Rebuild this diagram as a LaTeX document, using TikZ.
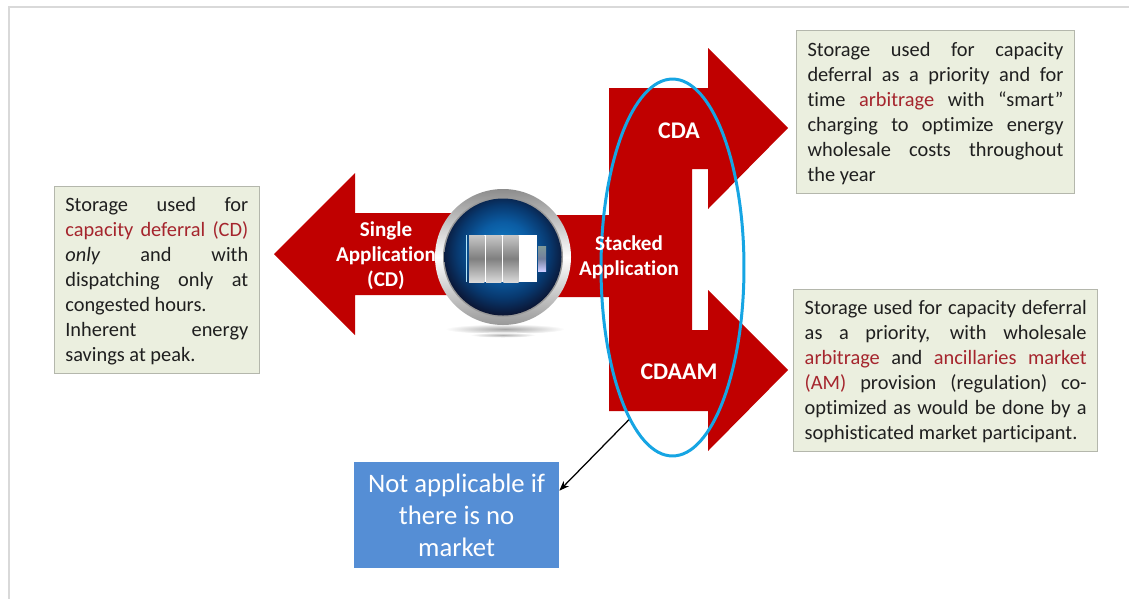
\documentclass[tikz,border=0pt]{standalone}
\usepackage{fontspec}
\setmainfont{Carlito}[Ligatures=NoCommon]
\usetikzlibrary{arrows.meta,shapes.geometric}
\definecolor{appred}{HTML}{C00000}
\definecolor{notered}{HTML}{A5252D}
\definecolor{notefill}{HTML}{EBEFDF}
\definecolor{noteline}{HTML}{B4B7AC}
\definecolor{ovalblue}{HTML}{16A5E3}
\definecolor{marketblue}{HTML}{558ED5}
\definecolor{frameline}{HTML}{D9D9D9}
\definecolor{glowcore}{HTML}{1280C8}
\definecolor{glowmid}{HTML}{0B5CA3}
\definecolor{glowlow}{HTML}{08386E}
\definecolor{glowrim}{HTML}{0B1330}
\definecolor{glowedge}{HTML}{160E1C}
\pgfdeclareradialshading{batteryglow}{\pgfpoint{0bp}{4bp}}{%
  color(0bp)=(glowcore); color(12bp)=(glowmid); color(20bp)=(glowlow); color(27bp)=(glowrim); color(31bp)=(glowedge); color(50bp)=(glowedge)}
\newcommand{\hot}[1]{\textcolor{notered}{#1}}
\newcommand{\notefont}{\fontsize{11.6}{14.25}\selectfont\tolerance=10000\relax\hbadness=10000\relax}
\newcommand{\notestart}{\rule{0pt}{9.6pt}}
\tikzset{
  notebox/.style={
    draw=noteline,
    line width=0.02cm,
    fill=notefill,
    inner xsep=0.22cm,
    inner ysep=0pt,
    text=black!88,
    align=justify,
    font=\notefont
  },
  applabel/.style={
    text=white,
    align=center,
    inner sep=0pt,
    font=\fontsize{12}{14.25}\selectfont\bfseries
  },
  armlabel/.style={
    applabel,
    font=\fontsize{13.6}{16}\selectfont\bfseries
  }
}
\begin{document}
\begin{tikzpicture}[x=0.02cm,y=-0.02cm,
  cell/.style={top color=black!22,bottom color=black!15,middle color=black!50}]

  \useasboundingbox (0,0) rectangle (1129,599);

  \draw[frameline,line width=0.05cm] (1129,7) -- (9,7) -- (9,599);

  % left arrow
  \fill[appred] (274,254) -- (355,173) -- (355,213) -- (503,213) -- (503,295)
    -- (355,295) -- (355,335) -- cycle;

  % both right arrows with the gap between them
  \fill[appred] (503,215) -- (609,215) -- (609,88) -- (708,88) -- (708,48)
    -- (788,128) -- (708,209) -- (708,169) -- (692,169) -- (692,330)
    -- (708,330) -- (708,290) -- (788,370) -- (708,451) -- (708,411)
    -- (609,411) -- (609,297) -- (503,297) -- cycle;

  % battery
  \shade[inner color=black!35,outer color=white] (505,329) ellipse (1.2cm and 0.1cm);
  \shade[inner color=black!30,outer color=white] (503,335) ellipse (0.66cm and 0.05cm);
  \shade[top color=black!45,bottom color=black!40,middle color=white]
    (503,257) circle (68);
  \fill[black!40] (503,257) circle (60);
  \shade[shading=batteryglow] (503,257) circle (58.5);
  \fill[white] (469,235) rectangle (537,282);
  \fill[white!70!cyan] (465.5,235) rectangle (466.5,282);
  \foreach \cx in {469,486,503.3}
    \shade[cell] (\cx,235) rectangle +(15.3,47);
  \shade[top color=cyan!20!black!50,bottom color=white!80!blue,middle color=cyan!30!blue!30!black!55]
    (538,246) rectangle (546,271);

  % oval over the arrows
  \node (stackoval) at (672.5,267.5) [draw=ovalblue,line width=0.06cm,ellipse,inner sep=0pt,
    minimum width=2.86cm,minimum height=7.54cm]{};

  \node (singlelabel) at (386,256) [applabel]{Single\\Application\\(CD)};
  \node (stackedlabel) at (629,257) [applabel]{Stacked\\Application};
  \node (cdalabel) at (679,131) [armlabel]{CDA};
  \node (cdaamlabel) at (679,372) [armlabel]{CDAAM};

  \node (cdnote) at (156.8,280) [notebox,text width=3.66cm,minimum height=3.73cm]{%
    \notestart Storage used for\linebreak
    \hot{capacity deferral (CD)}\linebreak
    \textit{only} and with\linebreak
    dispatching only at\linebreak
    congested hours.\hfill\null\linebreak
    Inherent energy\linebreak
    savings at peak.};

  \node (cdanote) at (935.5,112) [notebox,text width=5.12cm,minimum height=3.25cm]{%
    \notestart Storage used for capacity\linebreak
    deferral as a priority and for\linebreak
    time \hot{arbitrage} with “smart”\linebreak
    charging to optimize energy\linebreak
    wholesale costs throughout\linebreak
    the year};

  \node (cdaamnote) at (945.7,370.3) [notebox,text width=5.64cm,minimum height=3.23cm]{%
    \notestart Storage used for capacity deferral\linebreak
    as a priority, with wholesale\linebreak
    \hot{arbitrage} and \hot{ancillaries market}\linebreak
    \hot{(AM)} provision (regulation) co-\linebreak
    optimized as would be done by a\linebreak
    sophisticated market participant.};

  \node (marketbox) at (456.6,515) [fill=marketblue,text=white,align=center,inner sep=0pt,
    minimum width=4.1cm,minimum height=2.13cm,
    font=\fontsize{15.2}{18.2}\selectfont]{Not applicable if\\there is no\\market};

  \coordinate (marketin) at (559.3,490.7);
  \draw[black,line width=0.025cm,-{Stealth[length=0.2cm,width=0.15cm]}] (stackoval.254) -- (marketin);

\end{tikzpicture}
\end{document}
